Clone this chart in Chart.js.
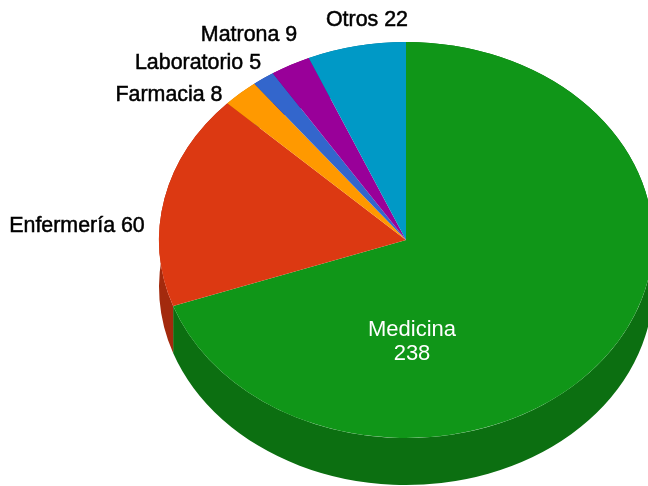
<!DOCTYPE html>
<html>
<head>
<meta charset="utf-8">
<style>
html, body { margin: 0; padding: 0; background: #fff; overflow: hidden; }
#wrap { width: 648px; height: 486px; }
#pieChart { filter: blur(0.4px); }
</style>
<script src="https://cdn.jsdelivr.net/npm/chart.js@4"></script>
</head>
<body>
<div id="wrap"><canvas id="pieChart" width="648" height="486"></canvas></div>
<script>
// Chart data
const categories = ['Medicina', 'Enfermería', 'Farmacia', 'Laboratorio', 'Matrona', 'Otros'];
const values = [238, 60, 8, 5, 9, 22];
const topColors = ['#109618', '#dc3912', '#ff9900', '#3366cc', '#990099', '#0099c6'];
const sideColors = ['#0c6f11', '#a32a0d', '#bd7100', '#264b97', '#710071', '#007192'];

// Look of the fake 3D pie
const stretchX = 247 / 198;
const depth = 47;
const blackFont = '21.4px "Liberation Sans", sans-serif';
const whiteFont = '22px "Liberation Sans", sans-serif';

// Label anchors: x is the centre of the text, y its middle
const labelSpots = [
    [[412, 330], [412, 354]],
    [[77, 226]],
    [[169, 95]],
    [[198, 63]],
    [[249, 35]],
    [[367, 20]]
];

function stretch(ctx, arc) {
    ctx.translate(arc.x, 0);
    ctx.scale(stretchX, 1);
    ctx.translate(-arc.x, 0);
}

const pie3d = {
    id: 'pie3d',
    beforeDatasetsDraw(chart) {
        const ctx = chart.ctx;
        const arcs = chart.getDatasetMeta(0).data;
        ctx.save();
        stretch(ctx, arcs[0]);
        // side wall: each slice's rim swept down by the depth
        arcs.forEach((arc, i) => {
            ctx.fillStyle = sideColors[i];
            ctx.beginPath();
            ctx.arc(arc.x, arc.y, arc.outerRadius, arc.startAngle, arc.endAngle);
            ctx.arc(arc.x, arc.y + depth, arc.outerRadius, arc.endAngle, arc.startAngle, true);
            ctx.closePath();
            ctx.fill();
        });
    },
    afterDatasetsDraw(chart) {
        const ctx = chart.ctx;
        ctx.restore();
        ctx.textAlign = 'center';
        ctx.textBaseline = 'middle';
        categories.forEach((name, i) => {
            const spots = labelSpots[i];
            if (spots.length === 2) {
                ctx.font = whiteFont;
                ctx.fillStyle = '#fff';
                ctx.fillText(name, spots[0][0], spots[0][1]);
                ctx.fillText(String(values[i]), spots[1][0], spots[1][1]);
            } else {
                const text = name + ' ' + values[i];
                ctx.font = blackFont;
                ctx.fillStyle = '#000';
                ctx.strokeStyle = '#000';
                ctx.lineWidth = 0.5;
                ctx.fillText(text, spots[0][0], spots[0][1]);
                ctx.strokeText(text, spots[0][0], spots[0][1]);
            }
        });
    }
};

new Chart(document.getElementById('pieChart'), {
    type: 'pie',
    data: {
        labels: categories,
        datasets: [{
            data: values,
            backgroundColor: topColors,
            borderWidth: 0,
            clip: false
        }]
    },
    options: {
        responsive: false,
        animation: false,
        events: [],
        layout: { padding: { left: 208, right: 44, top: 42, bottom: 48 } },
        plugins: {
            legend: { display: false },
            tooltip: { enabled: false }
        }
    },
    plugins: [pie3d]
});
</script>
</body>
</html>
